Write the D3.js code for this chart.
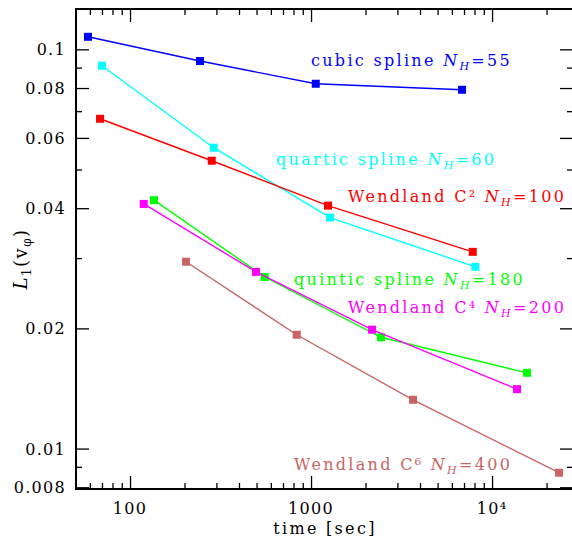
<!DOCTYPE html>
<html>
<head>
<meta charset="utf-8">
<script src="https://cdn.jsdelivr.net/npm/d3@7"></script>
<style>
  html, body { margin: 0; padding: 0; background: #fff; }
  svg { display: block; }
  text { font-family: "DejaVu Serif", "Liberation Serif", serif; }
</style>
</head>
<body>
<div id="chart"></div>
<script>
// ---------- data ----------
const seriesNames = ["cubic spline", "quartic spline", "Wendland C²", "quintic spline", "Wendland C⁴", "Wendland C⁶"];
const seriesNH = ["55", "60", "100", "180", "200", "400"];
const seriesColors = ["#0000ff", "#00ffff", "#ff0000", "#00ff00", "#ff00ff", "#c86464"];

const timeCubic    = [58.6, 243.6, 1062, 6826];
const l1Cubic      = [0.1075, 0.0935, 0.0820, 0.0792];
const timeQuartic  = [70.0, 290, 1274, 8086];
const l1Quartic    = [0.0910, 0.0567, 0.0379, 0.02853];
const timeWendC2   = [68.3, 282.8, 1241, 7825];
const l1WendC2     = [0.0670, 0.0526, 0.0406, 0.0311];
const timeQuintic  = [135.7, 554.9, 2436, 15610];
const l1Quintic    = [0.0419, 0.0269, 0.0190, 0.01548];
const timeWendC4   = [119.1, 496.7, 2173, 13740];
const l1WendC4     = [0.0410, 0.0277, 0.01985, 0.01409];
const timeWendC6   = [203.9, 833.7, 3661, 23450];
const l1WendC6     = [0.02938, 0.01928, 0.01325, 0.00870];

const xMajorTicks = [100, 1000, 10000];
const xTickLabels = ["100", "1000", "10⁴"];
const xMinorTicks = [60, 70, 80, 90, 200, 300, 400, 500, 600, 700, 800, 900,
                     2000, 3000, 4000, 5000, 6000, 7000, 8000, 9000, 20000];
const yMajorTicks = [0.1, 0.08, 0.06, 0.04, 0.02, 0.01, 0.008];
const yTickLabels = ["0.1", "0.08", "0.06", "0.04", "0.02", "0.01", "0.008"];
const yMinorTicks = [0.09, 0.07, 0.05, 0.03, 0.009];

const xDomain = [50.3, 28000];
const yDomain = [0.00792, 0.1262];

// ---------- layout ----------
const W = 572, H = 542;
const mLeft = 76, mRight = 573, mTop = 9, mBottom = 489;

const svg = d3.select("#chart").append("svg").attr("width", W).attr("height", H);

const x = d3.scaleLog().domain(xDomain).range([mLeft, mRight]);
const y = d3.scaleLog().domain(yDomain).range([mBottom, mTop]);

const series = [
  [timeCubic, l1Cubic], [timeQuartic, l1Quartic], [timeWendC2, l1WendC2],
  [timeQuintic, l1Quintic], [timeWendC4, l1WendC4], [timeWendC6, l1WendC6]
].map((s, i) => ({
  name: seriesNames[i], nh: seriesNH[i], color: seriesColors[i],
  pts: s[0].map((t, j) => ({ t, v: s[1][j] }))
}));

// ---------- axes ----------
const majorLen = 13, minorLen = 6;
function styleAxis(g) {
  g.select(".domain").remove();
  g.selectAll(".tick line").attr("stroke", "#000").attr("stroke-width", 1.3);
}
function addAxis(axisFn, pos, transform) {
  svg.append("g").attr("transform", transform)
    .call(axisFn.tickValues(pos.vals).tickSize(-pos.len).tickFormat(""))
    .call(styleAxis);
}
[[d3.axisBottom, `translate(0,${mBottom})`, x, xMajorTicks, xMinorTicks],
 [d3.axisTop, `translate(0,${mTop})`, x, xMajorTicks, xMinorTicks],
 [d3.axisLeft, `translate(${mLeft},0)`, y, yMajorTicks, yMinorTicks],
 [d3.axisRight, `translate(${mRight},0)`, y, yMajorTicks, yMinorTicks]
].forEach(([fn, tr, sc, maj, min]) => {
  addAxis(fn(sc), { vals: maj, len: majorLen }, tr);
  addAxis(fn(sc), { vals: min, len: minorLen }, tr);
});

// frame
svg.append("rect").attr("x", mLeft).attr("y", mTop)
  .attr("width", mRight - mLeft).attr("height", mBottom - mTop)
  .attr("fill", "none").attr("stroke", "#000").attr("stroke-width", 2);

// tick labels
const fs = 16, lsTick = 1.3, lsText = 2.3;
svg.append("g").selectAll("text").data(xMajorTicks).join("text")
  .attr("x", d => x(d)).attr("y", 514)
  .attr("text-anchor", "middle").attr("font-size", fs).attr("letter-spacing", lsTick)
  .text((d, i) => xTickLabels[i]);
svg.append("g").selectAll("text").data(yMajorTicks).join("text")
  .attr("x", 66).attr("y", d => y(d) + 6)
  .attr("text-anchor", "end").attr("font-size", fs).attr("letter-spacing", lsTick)
  .text((d, i) => yTickLabels[i]);

// axis titles
svg.append("text").attr("x", 325).attr("y", 534).attr("text-anchor", "middle")
  .attr("font-size", fs).attr("letter-spacing", lsText).text("time [sec]");
const yl = svg.append("text").attr("transform", "translate(27,259) rotate(-90)")
  .attr("text-anchor", "middle").attr("font-size", 18).attr("letter-spacing", 1.5);
yl.append("tspan").attr("font-style", "italic").text("L");
yl.append("tspan").attr("font-size", 12).attr("dy", 4).text("1");
yl.append("tspan").attr("dy", -4).text("(v");
yl.append("tspan").attr("font-size", 12).attr("dy", 4).text("φ");
yl.append("tspan").attr("dy", -4).text(")");

// ---------- series ----------
const line = d3.line().x(d => x(d.t)).y(d => y(d.v));
const plot = svg.append("g");
series.forEach(s => {
  plot.append("path").datum(s.pts).attr("d", line)
    .attr("fill", "none").attr("stroke", s.color).attr("stroke-width", 1.4);
  plot.selectAll(null).data(s.pts).join("rect")
    .attr("x", d => x(d.t) - 4).attr("y", d => y(d.v) - 4)
    .attr("width", 8).attr("height", 8).attr("fill", s.color);
});

// ---------- labels ----------
const labelPos = [[311, 66], [276, 165], [348, 202], [294, 285], [348, 313], [294, 470]];
series.forEach((s, i) => {
  const t = svg.append("text").attr("x", labelPos[i][0]).attr("y", labelPos[i][1])
    .attr("font-size", fs).attr("letter-spacing", lsText).attr("fill", s.color);
  t.append("tspan").text(s.name + " ");
  t.append("tspan").attr("font-style", "italic").text("N");
  t.append("tspan").attr("font-style", "italic").attr("font-size", 11).attr("dy", 4).text("H");
  t.append("tspan").attr("dy", -4).text("=" + s.nh);
});
</script>
</body>
</html>
